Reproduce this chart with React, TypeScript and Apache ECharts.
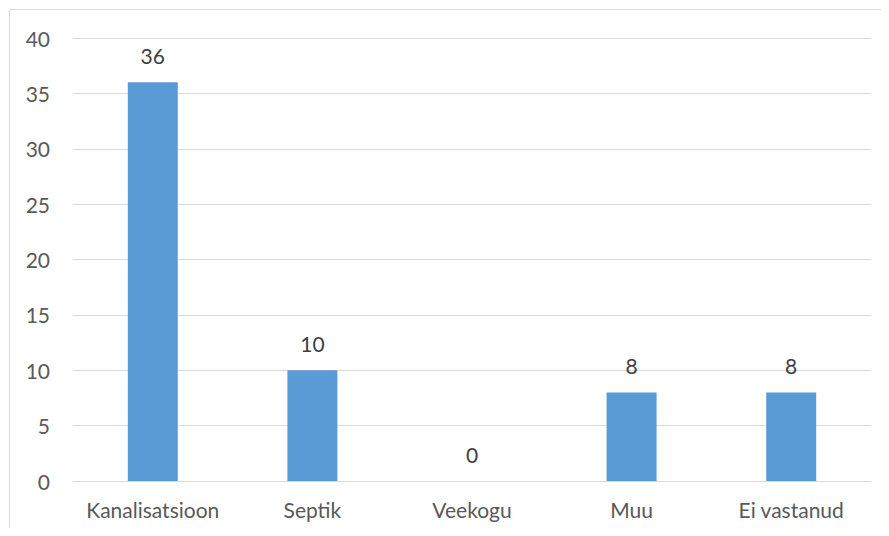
import React, { useEffect, useRef } from "react";
import * as echarts from "echarts";

const categories = ["Kanalisatsioon", "Septik", "Veekogu", "Muu", "Ei vastanud"];
const values = [36, 10, 0, 8, 8];

export default function App() {
  const ref = useRef<HTMLDivElement>(null);
  useEffect(() => {
    const chart = echarts.init(ref.current!, null, { renderer: "svg" });
    const font = "Lato, 'Open Sans', sans-serif";
    chart.setOption({
      animation: false,
      backgroundColor: "#ffffff",
      textStyle: { fontFamily: font },
      graphic: [
        {
          type: "rect",
          shape: { x: 9.5, y: 9.5, width: 900, height: 600 },
          style: { fill: "none", stroke: "#d9d9d9", lineWidth: 1 },
          silent: true,
        },
      ],
      grid: { left: 73, right: 18, top: 38, bottom: 55, containLabel: false },
      xAxis: {
        type: "category",
        data: categories,
        axisLine: { lineStyle: { color: "#d9d9d9", width: 1 } },
        axisTick: { show: false },
        axisLabel: { color: "#595959", fontSize: 21, margin: 18, interval: 0, fontFamily: font },
      },
      yAxis: {
        type: "value",
        min: 0,
        max: 40,
        interval: 5,
        axisLine: { show: false },
        axisTick: { show: false },
        splitLine: { lineStyle: { color: "#d9d9d9", width: 1 } },
        axisLabel: { color: "#595959", fontSize: 21, margin: 23, fontFamily: font },
      },
      series: [
        {
          type: "bar",
          data: values,
          barWidth: 50,
          itemStyle: { color: "#5b9bd5" },
          label: {
            show: true,
            position: "top",
            distance: 16,
            color: "#404040",
            fontSize: 21,
            fontFamily: font,
          },
        },
      ],
    });
    return () => chart.dispose();
  }, []);
  return <div ref={ref} style={{ width: 889, height: 536, margin: -8 }} />;
}
